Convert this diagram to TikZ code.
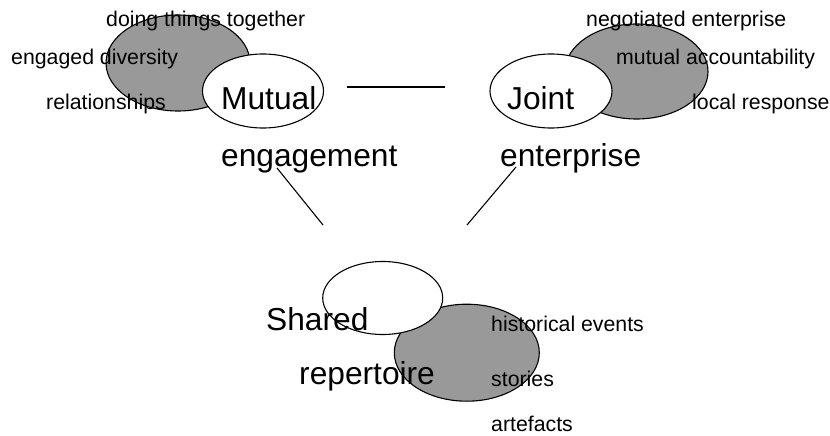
\documentclass[tikz,border=0pt]{standalone}
\usepackage{fontspec}
\setmainfont{Liberation Sans}
\usetikzlibrary{shapes.geometric}
\definecolor{blobgray}{RGB}{153,153,153}
\tikzset{
  grayblob/.style={ellipse, draw=black, fill=blobgray, line width=1.1pt, inner sep=0pt},
  whiteblob/.style={ellipse, draw=black, fill=white, line width=1.1pt, inner sep=0pt},
  small/.style={anchor=base west, inner sep=0pt, font=\fontsize{21.3}{25}\selectfont},
  big/.style={anchor=base west, inner sep=0pt, font=\fontsize{31.7}{37}\selectfont},
  link/.style={draw=black, line width=1.1pt}
}
\begin{document}
\begin{tikzpicture}[x=1pt,y=-1pt]
\useasboundingbox (0,0) rectangle (830,436);
% top-left group
\node[grayblob, minimum width=144pt, minimum height=96pt] (g1) at (178,63) {};
\node[whiteblob, minimum width=121pt, minimum height=74pt] (w1) at (263,91) {};
% top-right group
\node[grayblob, minimum width=143pt, minimum height=95pt] (g2) at (636.5,71.5) {};
\node[whiteblob, minimum width=122pt, minimum height=74pt] (w2) at (551,91) {};
% bottom group
\node[grayblob, minimum width=145pt, minimum height=97pt] (g3) at (466.8,352.7) {};
\node[whiteblob, minimum width=120pt, minimum height=73pt] (w3) at (382.7,298) {};
% texts
\node[small] (t1) at (106,27) {doing things together};
\node[small] (t2) at (11,64) {engaged diversity};
\node[small] (t3) at (46,110) {relationships};
\node[big] (m1) at (221,110) {Mutual};
\node[big] (m2) at (221,166) {engagement};
\node[small] (t4) at (586,27) {negotiated enterprise};
\node[small] (t5) at (616,64) {mutual accountability};
\node[small] (t6) at (692,110) {local response};
\node[big] (j1) at (507,110) {Joint};
\node[big] (j2) at (500,166) {enterprise};
\node[big] (s1) at (266,330) {Shared};
\node[big] (s2) at (299,384) {repertoire};
\node[small] (t7) at (491,331) {historical events};
\node[small] (t8) at (491,386) {stories};
\node[small] (t9) at (491,431) {artefacts};
% connectors
\coordinate (a1) at (347,87);
\coordinate (a2) at (445,87);
\coordinate (b1) at (277,168);
\coordinate (b2) at (323,225);
\coordinate (c1) at (516,167);
\coordinate (c2) at (467,225);
\draw[link] (a1) -- (a2);
\draw[link] (b1) -- (b2);
\draw[link] (c1) -- (c2);
\end{tikzpicture}
\end{document}
